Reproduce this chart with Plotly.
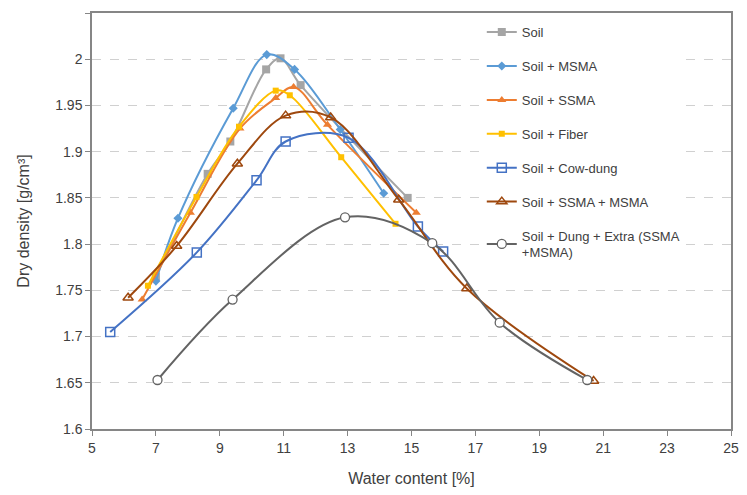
import plotly.graph_objects as go

# --- data ---
soil_x = [7.0, 8.62, 9.33, 10.45, 10.9, 11.53, 14.88]
soil_y = [1.765, 1.876, 1.911, 1.989, 2.001, 1.972, 1.850]

msma_x = [7.0, 7.69, 9.42, 10.47, 11.34, 12.77, 14.13]
msma_y = [1.760, 1.828, 1.947, 2.005, 1.989, 1.924, 1.855]

ssma_x = [6.57, 8.08, 9.63, 10.75, 11.31, 12.37, 15.15]
ssma_y = [1.740, 1.834, 1.925, 1.958, 1.970, 1.929, 1.834]

fiber_x = [6.75, 8.27, 9.6, 10.75, 11.19, 12.8, 14.5]
fiber_y = [1.755, 1.851, 1.927, 1.966, 1.961, 1.894, 1.822]

cow_x = [5.57, 8.28, 10.15, 11.06, 13.03, 15.2, 15.99]
cow_y = [1.705, 1.791, 1.869, 1.911, 1.915, 1.819, 1.792]

sm_x = [6.13, 7.65, 9.55, 11.06, 12.47, 14.6, 16.73, 20.7]
sm_y = [1.742, 1.798, 1.887, 1.939, 1.937, 1.848, 1.752, 1.652]

dung_x = [7.05, 9.4, 12.92, 15.65, 17.76, 20.5]
dung_y = [1.653, 1.740, 1.829, 1.801, 1.715, 1.653]

x_ticks = list(range(5, 26, 2))
y_ticks = [1.6, 1.65, 1.7, 1.75, 1.8, 1.85, 1.9, 1.95, 2.0, 2.05]
y_labels = ['1.6', '1.65', '1.7', '1.75', '1.8', '1.85', '1.9', '1.95', '2', '2.05']

FONT = 'Arial, Liberation Sans, sans-serif'

series = [
    ('Soil', soil_x, soil_y, '#A5A5A5', dict(symbol='square', size=8, color='#A5A5A5')),
    ('Soil + MSMA', msma_x, msma_y, '#5B9BD5', dict(symbol='diamond', size=7, color='#5B9BD5')),
    ('Soil + SSMA', ssma_x, ssma_y, '#ED7D31', dict(symbol='triangle-up', size=8, color='#ED7D31')),
    ('Soil + Fiber', fiber_x, fiber_y, '#FFC000', dict(symbol='square', size=6, color='#FFC000')),
    ('Soil + Cow-dung', cow_x, cow_y, '#4472C4',
     dict(symbol='square-open', size=9, color='#4472C4', line=dict(width=1.5))),
    ('Soil + SSMA + MSMA', sm_x, sm_y, '#9E480E',
     dict(symbol='triangle-up-open', size=9, color='#9E480E', line=dict(width=1.5))),
    ('Soil + Dung + Extra (SSMA<br>+MSMA)', dung_x, dung_y, '#636363',
     dict(symbol='circle', size=9, color='white', line=dict(width=1.3, color='#636363'))),
]

fig = go.Figure()
for i, (name, xs, ys, col, mk) in enumerate(series):
    fig.add_trace(go.Scatter(
        x=xs, y=ys, mode='lines+markers', name=name, legendgroup=str(i),
        line=dict(color=col, width=2, shape='spline', smoothing=1.0),
        marker=mk,
    ))

# page body adds ~8px margin on each side, so the figure is sized to fit inside the window
fig.update_layout(
    width=731, height=479,
    margin=dict(l=84, r=8, t=5, b=58),
    paper_bgcolor='white', plot_bgcolor='white',
    font=dict(family=FONT, size=13, color='#404040'),
    showlegend=True,
    legend=dict(x=0.61, y=0.99, xanchor='left', yanchor='top',
                bgcolor='white', font=dict(size=13, color='#404040'),
                tracegroupgap=14, itemwidth=30),
    xaxis=dict(range=[5, 25], tickvals=x_ticks, showgrid=False, automargin=False,
               showline=True, linecolor='#868686', linewidth=1.5, mirror=True,
               ticks='outside', ticklen=5, tickcolor='#868686',
               tickfont=dict(size=14, color='#404040'),
               title=dict(text='Water content [%]', font=dict(size=16, color='#404040'), standoff=20)),
    yaxis=dict(range=[1.6, 2.05], tickvals=y_ticks, ticktext=y_labels,
               showgrid=True, gridcolor='#D0D0D0', griddash='dash', gridwidth=1, automargin=False,
               showline=True, linecolor='#868686', linewidth=1.5, mirror=True,
               ticks='outside', ticklen=5, tickcolor='#868686',
               tickfont=dict(size=14, color='#404040'),
               title=dict(text='Dry density [g/cm³]', font=dict(size=16, color='#404040'), standoff=22)),
)

fig.write_html("out.html")
